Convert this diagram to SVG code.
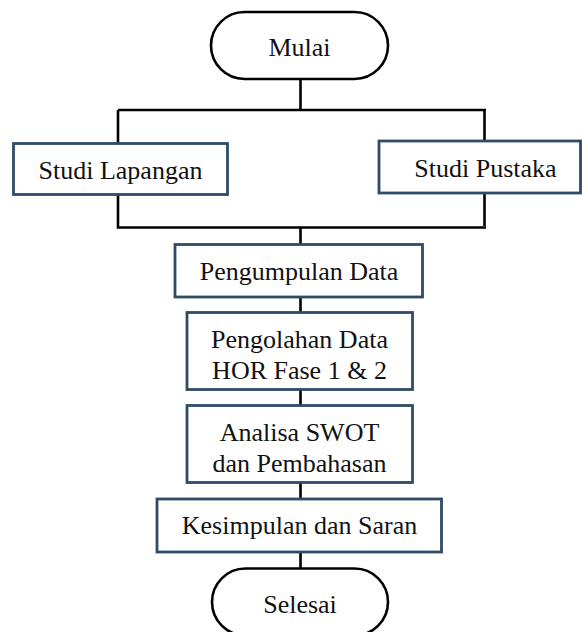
<svg xmlns="http://www.w3.org/2000/svg" width="582" height="632" viewBox="0 0 582 632">
<style>
.term{fill:#fff;stroke:#000;stroke-width:2.6}
.box{fill:#fff;stroke:#2F4B68;stroke-width:2.8}
.lbl{font-family:"Liberation Serif","Times New Roman",serif;font-size:26px;fill:#111;text-anchor:middle}
.con{fill:none;stroke:#000;stroke-width:2.6}
</style>
<rect width="582" height="632" fill="#fff"/>
<g id="connectors">
<path class="con" d="M300.5 79V110M118 110H486M118 110V143M484.5 110V141"/>
<path class="con" d="M118 194V227.5H486M484.5 193V226M300.5 227.5V244"/>
<path class="con" d="M300.5 297V312M300.5 389V405M300.5 483V499M300.5 552V568"/>
</g>
<g id="mulai">
<rect class="term" x="211" y="12" width="177" height="67" rx="33.5" ry="33.5"/>
<text class="lbl" x="299.5" y="55.5">Mulai</text>
</g>
<g id="studi-lapangan">
<rect class="box" x="13.5" y="143.5" width="214" height="51"/>
<text class="lbl" x="120.5" y="178.5">Studi Lapangan</text>
</g>
<g id="studi-pustaka">
<rect class="box" x="379" y="141" width="201.5" height="52"/>
<text class="lbl" x="485.5" y="176.5">Studi Pustaka</text>
</g>
<g id="pengumpulan-data">
<rect class="box" x="175" y="244.5" width="247.5" height="52.5"/>
<text class="lbl" x="299" y="280">Pengumpulan Data</text>
</g>
<g id="pengolahan-data">
<rect class="box" x="187" y="312.5" width="225.5" height="77"/>
<text class="lbl" x="299.5" y="347.5">Pengolahan Data</text>
<text class="lbl" x="299.5" y="379">HOR Fase 1 &amp; 2</text>
</g>
<g id="analisa-swot">
<rect class="box" x="187" y="405.5" width="225.5" height="77"/>
<text class="lbl" x="299.5" y="440.5">Analisa SWOT</text>
<text class="lbl" x="299.5" y="471.5">dan Pembahasan</text>
</g>
<g id="kesimpulan">
<rect class="box" x="157" y="499" width="284.5" height="53"/>
<text class="lbl" x="299.5" y="534">Kesimpulan dan Saran</text>
</g>
<g id="selesai">
<rect class="term" x="212" y="568.5" width="176" height="67" rx="33.5" ry="33.5"/>
<text class="lbl" x="300" y="613">Selesai</text>
</g>
</svg>
